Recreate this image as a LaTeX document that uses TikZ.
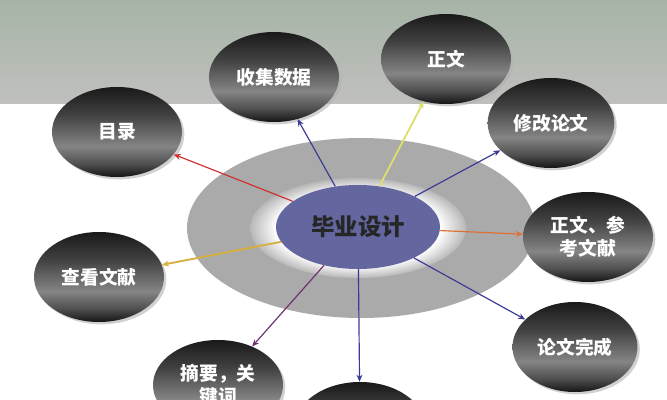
\documentclass[tikz,border=0pt]{standalone}
\usepackage{fontspec}
\newfontfamily\cjk{Noto Sans CJK SC}
\usetikzlibrary{shapes.geometric,arrows.meta,shadows}
\definecolor{bandtop}{RGB}{166,180,166}
\definecolor{bandbot}{RGB}{192,192,190}
\definecolor{ringgray}{RGB}{170,170,170}
\definecolor{hubblue}{RGB}{100,102,160}
\definecolor{linkblue}{RGB}{58,58,150}
\definecolor{linkred}{RGB}{208,48,48}
\definecolor{linkyellow}{RGB}{222,222,110}
\definecolor{linkorange}{RGB}{224,112,48}
\definecolor{linkpurple}{RGB}{112,48,110}
\definecolor{linkgold}{RGB}{214,176,64}
\pgfdeclareverticalshading{darkball}{100bp}{color(0bp)=(black!92); color(25bp)=(black!92); color(32bp)=(black!70); color(42bp)=(black!48); color(60bp)=(black!75); color(75bp)=(black!90); color(100bp)=(black!90)}
\pgfdeclareradialshading{ringshade}{\pgfpoint{0bp}{0bp}}{color(0bp)=(white); color(19bp)=(white); color(25bp)=(black!28); color(50bp)=(black!28)}
\begin{document}
\begin{tikzpicture}[x=0.03cm, y=-0.03cm,
    bubble/.style={ellipse, shade, shading=darkball, minimum width=3.9cm, minimum height=2.7cm,
        inner sep=0pt, text=white, align=center, font=\cjk\bfseries\fontsize{16}{20}\selectfont,
        drop shadow={shadow xshift=2pt, shadow yshift=-2pt, fill=black!30, opacity=.6}},
    link/.style={-{Stealth[length=6pt,width=5pt]}, line width=1pt}]
    \useasboundingbox (0,0) rectangle (667,400);
    \clip (0,0) rectangle (667,400);
    % background
    \shade[top color=bandtop, bottom color=bandbot] (0,0) rectangle (667,104);
    \fill[ringgray] (361,228) ellipse [x radius=174, y radius=90];
    \shade[shading=ringshade] (358,228) ellipse [x radius=108, y radius=50];
    % hub
    \node[ellipse, fill=hubblue, minimum width=4.92cm, minimum height=2.52cm, inner sep=0pt,
        text=black!85, font=\cjk\bfseries\fontsize{20}{24}\selectfont] (hub) at (358,227) {毕业设计};
    % bubbles
    \node[bubble] (toc) at (117,132) {目录};
    \node[bubble] (collect) at (274,77) {收集数据};
    \node[bubble] (body) at (446,59) {正文};
    \node[bubble, minimum width=3.8cm] (revise) at (551,123) {修改论文};
    \node[bubble] (refs) at (588,237) {正文、参\\考文献};
    \node[bubble, minimum width=3.75cm] (finish) at (575,347) {论文完成};
    \node[bubble] (last) at (360,427) {};
    \node[bubble] (abstract) at (218,385) {摘要，关\\键词};
    \node[bubble] (review) at (99,277) {查看文献};
    % links
    \draw[link, linkred] (hub) -- (toc);
    \draw[link, linkblue] (hub) -- (collect);
    \draw[link, linkyellow, line width=1.6pt] (hub) -- (body);
    \draw[link, linkblue] (hub) -- (revise);
    \draw[link, linkorange] (hub) -- (refs);
    \draw[link, linkblue] (hub) -- (finish);
    \draw[link, linkblue] (hub) -- (last);
    \draw[link, linkpurple] (hub) -- (abstract);
    \draw[link, linkgold, line width=1.6pt] (hub) -- (review);
\end{tikzpicture}
\end{document}
